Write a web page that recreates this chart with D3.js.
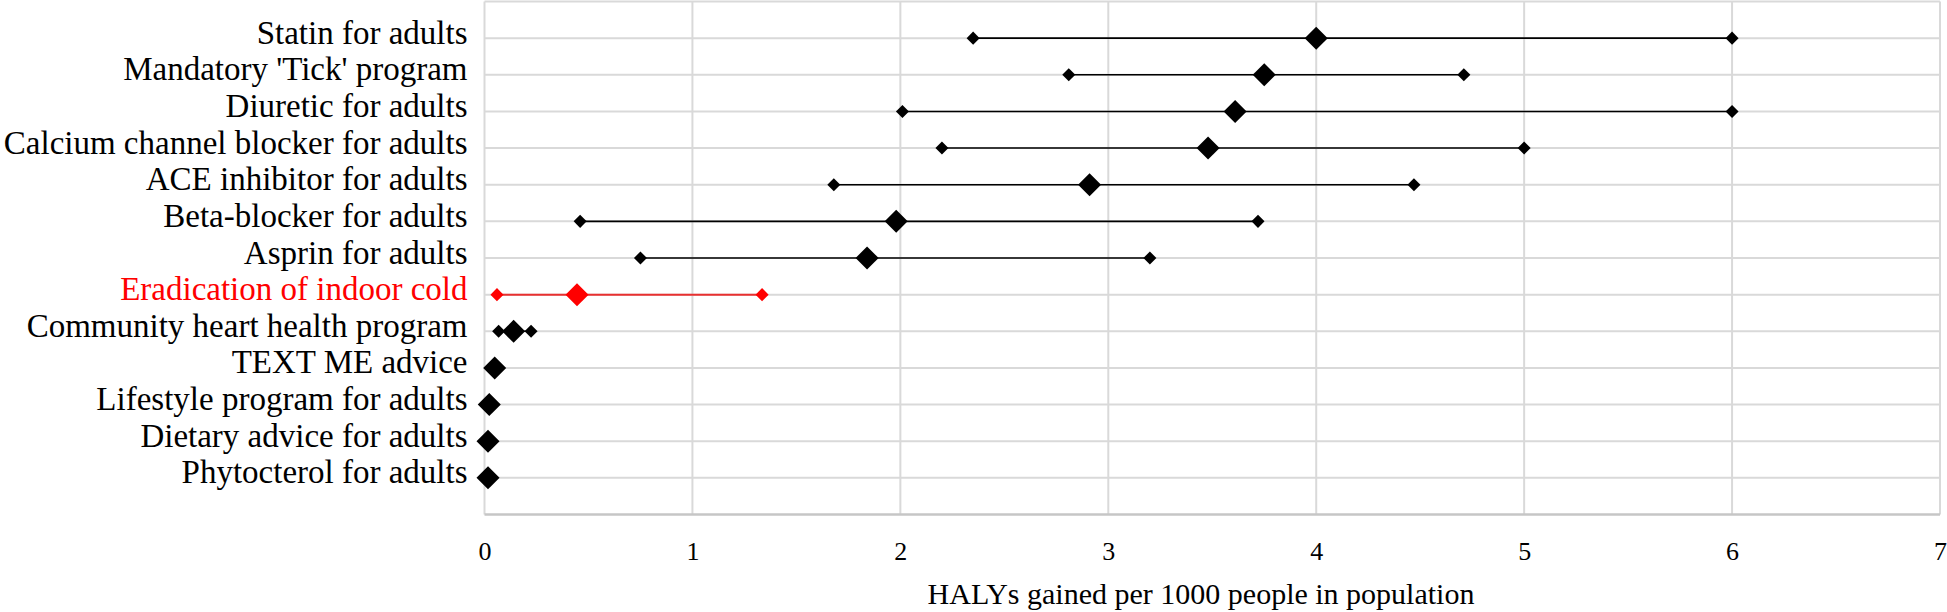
<!DOCTYPE html>
<html>
<head>
<meta charset="utf-8">
<script src="https://cdn.jsdelivr.net/npm/d3@7"></script>
<style>
  body { margin: 0; background: #fff; }
  text { font-family: "Liberation Serif", "Times New Roman", serif; }
</style>
</head>
<body>
<div id="chartDiv"></div>
<script>
// interventions, top to bottom
var categories = [
  "Statin for adults",
  "Mandatory 'Tick' program",
  "Diuretic for adults",
  "Calcium channel blocker for adults",
  "ACE inhibitor for adults",
  "Beta-blocker for adults",
  "Asprin for adults",
  "Eradication of indoor cold",
  "Community heart health program",
  "TEXT ME advice",
  "Lifestyle program for adults",
  "Dietary advice for adults",
  "Phytocterol for adults"
];
// HALYs gained per 1000 people (low / central / high)
var lowVals  = [2.35, 2.81, 2.01, 2.20, 1.68, 0.46, 0.75, 0.06, 0.068, null, null, null, null];
var midVals  = [4.00, 3.75, 3.61, 3.48, 2.91, 1.98, 1.84, 0.445, 0.14, 0.049, 0.023, 0.017, 0.017];
var highVals = [6.00, 4.71, 6.00, 5.00, 4.47, 3.72, 3.20, 1.335, 0.224, null, null, null, null];
var highlight = "Eradication of indoor cold";
var xTicks = [0, 1, 2, 3, 4, 5, 6, 7];
var xTitle = "HALYs gained per 1000 people in population";

var swidth = 1947, sheight = 612;
var margin = {top: 1.5, right: 7, bottom: 97.5, left: 484.5};
var width = swidth - margin.left - margin.right,
    height = sheight - margin.top - margin.bottom;

var svg = d3.select("#chartDiv")
  .append("svg")
  .attr("width", swidth)
  .attr("height", sheight);

var g = svg.append("g")
  .attr("transform", "translate(" + margin.left + "," + margin.top + ")");

var x = d3.scaleLinear().domain([0, 7]).range([0, width]);
// one slot per category plus an empty one at the bottom
var y = d3.scaleLinear().domain([0, categories.length + 1]).range([height, 0]);
var rowY = function(i) { return y(categories.length - i); };

// horizontal grid lines
g.selectAll(".hgrid")
  .data(d3.range(1, categories.length + 2))
  .enter().append("line")
  .attr("x1", 0).attr("x2", width)
  .attr("y1", d => y(d)).attr("y2", d => y(d))
  .attr("stroke", "#d9d9d9").attr("stroke-width", 2);

// vertical grid lines
g.selectAll(".vgrid")
  .data(xTicks)
  .enter().append("line")
  .attr("x1", d => x(d)).attr("x2", d => x(d))
  .attr("y1", 0).attr("y2", height)
  .attr("stroke", "#d9d9d9").attr("stroke-width", 2);

// bottom axis line
g.append("line")
  .attr("x1", 0).attr("x2", width)
  .attr("y1", height).attr("y2", height)
  .attr("stroke", "#c6c6c6").attr("stroke-width", 2.5);

// tick labels
var ax = g.append("g")
  .attr("transform", "translate(0," + height + ")")
  .call(d3.axisBottom(x).tickValues(xTicks).tickFormat(d3.format("d")).tickSize(0).tickPadding(27));
ax.select(".domain").remove();
ax.selectAll("text")
  .style("font-family", '"Liberation Serif", serif')
  .style("font-size", "26px")
  .attr("fill", "#000");

// category labels
g.selectAll(".cat")
  .data(categories)
  .enter().append("text")
  .attr("x", -17)
  .attr("y", (d, i) => rowY(i) + 5.5)
  .attr("text-anchor", "end")
  .attr("font-size", "33px")
  .attr("fill", d => d == highlight ? "#ff0000" : "#000")
  .text(d => d);

var rows = categories.map(function(c, i) {
  return {name: c, i: i, lo: lowVals[i], mid: midVals[i], hi: highVals[i],
          col: c == highlight ? "#ff0000" : "#000"};
});

// range lines
g.selectAll(".range")
  .data(rows.filter(d => d.lo != null))
  .enter().append("line")
  .attr("x1", d => x(d.lo)).attr("x2", d => x(d.hi))
  .attr("y1", d => rowY(d.i)).attr("y2", d => rowY(d.i))
  .attr("stroke", d => d.col == "#000" ? "#000" : "#e83030")
  .attr("stroke-width", d => d.col == "#000" ? 1.6 : 2);

var small = d3.symbol().type(d3.symbolSquare).size(85);
var big = d3.symbol().type(d3.symbolSquare).size(265);

var ends = [];
rows.forEach(function(d) {
  if (d.lo != null) ends.push({v: d.lo, i: d.i, col: d.col});
  if (d.hi != null) ends.push({v: d.hi, i: d.i, col: d.col});
});

g.selectAll(".endpt")
  .data(ends)
  .enter().append("path")
  .attr("d", small)
  .attr("transform", d => "translate(" + x(d.v) + "," + rowY(d.i) + ") rotate(45)")
  .attr("fill", d => d.col);

g.selectAll(".midpt")
  .data(rows)
  .enter().append("path")
  .attr("d", big)
  .attr("transform", d => "translate(" + x(d.mid) + "," + rowY(d.i) + ") rotate(45)")
  .attr("fill", d => d.col);

// axis title
svg.append("text")
  .attr("x", 1201)
  .attr("y", 604)
  .attr("text-anchor", "middle")
  .attr("font-size", "30px")
  .attr("fill", "#000")
  .text(xTitle);
</script>
</body>
</html>
